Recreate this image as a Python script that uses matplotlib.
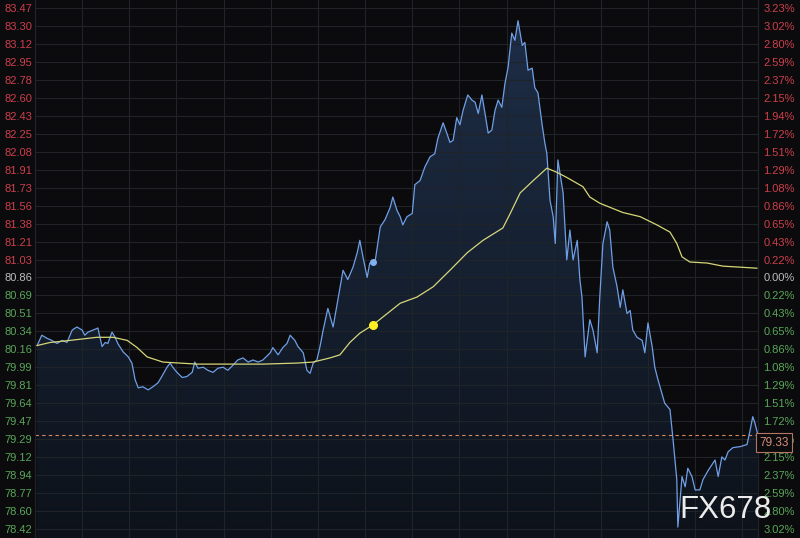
import matplotlib
matplotlib.use("Agg")
import matplotlib.pyplot as plt
import numpy as np

# minutes since session open (23h session) and price
t_price = [4, 13, 23, 32, 42, 52, 61, 71, 80, 90, 95, 101, 111, 120, 128, 134, 139, 147, 153, 158,
           168, 178, 185, 191, 197, 206, 216, 225, 235, 242, 252, 258, 263, 271, 281, 290, 300, 305,
           311, 321, 330, 340, 349, 359, 368, 378, 387, 397, 407, 416, 426, 435, 449, 454, 464, 473,
           481, 487, 496, 502, 512, 519, 525, 531, 538, 544, 550, 559, 569, 578, 588, 597, 607, 615,
           620, 626, 634, 639, 649, 659, 668, 678, 683, 691, 697, 702, 710, 720, 725, 735, 744, 754,
           763, 769, 779, 786, 792, 798, 805, 811, 817, 826, 834, 840, 846, 853, 859, 865, 872, 878,
           884, 891, 897, 903, 910, 916, 922, 930, 935, 941, 949, 954, 960, 968, 973, 977, 983, 989,
           993, 998, 1008, 1015, 1021, 1027, 1035, 1040, 1044, 1050, 1059, 1065, 1073, 1078, 1084,
           1092, 1097, 1103, 1111, 1117, 1122, 1130, 1136, 1141, 1149, 1159, 1164, 1170, 1178, 1183,
           1189, 1202, 1212, 1218, 1225, 1227, 1235, 1241, 1246, 1254, 1260, 1269, 1275, 1285, 1294,
           1298, 1304, 1311, 1317, 1323, 1332, 1346, 1359, 1365, 1370, 1374, 1380]
price = [80.20, 80.30, 80.27, 80.25, 80.22, 80.25, 80.23, 80.35, 80.38, 80.35, 80.30, 80.33, 80.35,
         80.37, 80.19, 80.23, 80.22, 80.33, 80.28, 80.22, 80.14, 80.09, 80.03, 79.87, 79.79, 79.80,
         79.77, 79.80, 79.84, 79.90, 79.99, 80.03, 79.99, 79.94, 79.89, 79.90, 79.94, 80.04, 79.98,
         79.99, 79.96, 79.94, 79.98, 79.99, 79.96, 80.01, 80.06, 80.08, 80.04, 80.06, 80.04, 80.06,
         80.13, 80.18, 80.11, 80.18, 80.22, 80.30, 80.25, 80.19, 80.13, 79.96, 79.93, 80.03, 80.06,
         80.19, 80.35, 80.56, 80.38, 80.64, 80.93, 80.84, 80.96, 81.10, 81.22, 81.06, 80.86, 81.00,
         81.01, 81.35, 81.42, 81.54, 81.64, 81.51, 81.45, 81.37, 81.45, 81.48, 81.76, 81.80, 81.93,
         82.03, 82.06, 82.21, 82.36, 82.26, 82.17, 82.19, 82.41, 82.34, 82.48, 82.63, 82.58, 82.56,
         82.45, 82.63, 82.45, 82.26, 82.29, 82.48, 82.58, 82.51, 82.74, 82.90, 83.23, 83.16, 83.35,
         83.11, 83.14, 82.87, 82.89, 82.70, 82.65, 82.34, 82.17, 82.06, 81.61, 81.45, 81.19, 82.00,
         81.68, 81.03, 81.32, 81.03, 81.22, 80.84, 80.67, 80.09, 80.45, 80.35, 80.13, 80.67, 81.19,
         81.40, 81.32, 80.96, 80.77, 80.57, 80.74, 80.51, 80.54, 80.35, 80.28, 80.25, 80.13, 80.42,
         80.19, 79.99, 79.87, 79.64, 79.58, 79.28, 78.90, 78.44, 78.93, 78.83, 79.01, 78.93, 78.80,
         78.80, 78.90, 78.99, 79.06, 79.09, 78.93, 79.12, 79.09, 79.17, 79.21, 79.22, 79.24, 79.38,
         79.51, 79.45, 79.33]

t_avg = [4, 29, 67, 118, 149, 176, 195, 214, 244, 309, 372, 435, 500, 531, 563, 582, 601, 620, 645,
         697, 729, 760, 792, 825, 855, 893, 907, 926, 951, 977, 996, 1015, 1046, 1059, 1078, 1122,
         1155, 1187, 1212, 1225, 1235, 1250, 1283, 1313, 1346, 1378]
avg = [80.20, 80.23, 80.25, 80.28, 80.28, 80.25, 80.18, 80.09, 80.04, 80.02, 80.02, 80.02, 80.03,
       80.04, 80.08, 80.11, 80.23, 80.32, 80.40, 80.61, 80.67, 80.77, 80.93, 81.10, 81.22, 81.34,
       81.48, 81.68, 81.80, 81.92, 81.88, 81.83, 81.74, 81.64, 81.58, 81.49, 81.45, 81.37, 81.30,
       81.19, 81.06, 81.01, 81.00, 80.97, 80.96, 80.95]

prev_close = 80.86
last_price = 79.33
marker_t = 645
marker_price = 81.01
marker_avg = 80.40

price_labels = ["83.47", "83.30", "83.12", "82.95", "82.78", "82.60", "82.43", "82.25", "82.08",
                "81.91", "81.73", "81.56", "81.38", "81.21", "81.03", "80.86", "80.69", "80.51",
                "80.34", "80.16", "79.99", "79.81", "79.64", "79.47", "79.29", "79.12", "78.94",
                "78.77", "78.60", "78.42"]
pct_labels = ["3.23%", "3.02%", "2.80%", "2.59%", "2.37%", "2.15%", "1.94%", "1.72%", "1.51%",
              "1.29%", "1.08%", "0.86%", "0.65%", "0.43%", "0.22%", "0.00%", "0.22%", "0.43%",
              "0.65%", "0.86%", "1.08%", "1.29%", "1.51%", "1.72%", "1.94%", "2.15%", "2.37%",
              "2.59%", "2.80%", "3.02%"]

step = prev_close * 0.0021545
ks = np.arange(15, -15, -1)
tick_pos = prev_close + ks * step

RED = "#cc3f4b"
GREEN = "#5aa65a"
GRAY = "#bdbdbd"
BG = "#0b0b0d"
GRID = "#202328"
YLIM = (78.3338, 83.5507)


def label_color(k):
    if k > 0:
        return RED
    if k < 0:
        return GREEN
    return GRAY


plt.rcParams["font.family"] = ["Liberation Sans", "DejaVu Sans"]

fig = plt.figure(figsize=(8, 5.38), dpi=100, facecolor=BG)
ax = fig.add_axes([35 / 800, 0, 723 / 800, 1])
ax.set_facecolor(BG)

# grid
for p in tick_pos:
    ax.axhline(p, color=GRID, lw=0.8, zorder=2)
for x in np.arange(90, 1380, 90):
    ax.axvline(x, color=GRID, lw=0.8, zorder=2)

# gradient fill under price line
poly = ax.fill_between(t_price, price, 78.0, facecolor="none", edgecolor="none")
grad = np.linspace(1, 0, 256).reshape(-1, 1)
cmap = matplotlib.colors.LinearSegmentedColormap.from_list("g", ["#0d121a", "#1e2e47"])
img = ax.imshow(grad, cmap=cmap, aspect="auto", extent=[0, 1380, YLIM[0], 83.40],
                origin="upper", zorder=1)
img.set_clip_path(poly.get_paths()[0], transform=ax.transData)
ax.set_xlim(0, 1380)
ax.set_ylim(*YLIM)

ax.plot(t_price, price, color="#6f9fe6", lw=0.9, zorder=4)
ax.plot(t_avg, avg, color="#d6d679", lw=0.9, zorder=4)
ax.plot([marker_t], [marker_avg], "o", color="#ffee22", ms=5.5, zorder=5)
ax.plot([marker_t], [marker_price], "o", color="#7fb0f0", ms=4, zorder=5)

# last price dashed line
ax.axhline(last_price, color="#d9895a", lw=0.8, ls=(0, (3, 3)), zorder=3)

ax.set_yticks(tick_pos)
ax.set_yticklabels(price_labels)
ax.tick_params(axis="y", length=0, pad=2, labelsize=8)
for lbl, k in zip(ax.get_yticklabels(), ks):
    lbl.set_color(label_color(k))
ax.set_xticks([])

ax2 = ax.twinx()
ax2.set_ylim(*YLIM)
ax2.set_yticks(tick_pos)
ax2.set_yticklabels(pct_labels)
ax2.tick_params(axis="y", length=0, pad=4, labelsize=8)
for lbl, k in zip(ax2.get_yticklabels(), ks):
    lbl.set_color(label_color(k))

# last price box covers the right label under it
ax2.text(1.002, last_price - 0.012, f"{last_price:.2f}", transform=ax2.get_yaxis_transform(),
         ha="left", va="top", fontsize=8.5, color="#d8907a", zorder=10, clip_on=False,
         bbox=dict(boxstyle="square,pad=0.3", fc=BG, ec="#b57563", lw=0.8))

for a in (ax, ax2):
    for side in ("top", "bottom"):
        a.spines[side].set_visible(False)
    a.spines["left"].set_color(GRID)
    a.spines["right"].set_color(GRID)

fig.text(679 / 800, 1 - 510 / 538, "F X 6 7 8".replace(" ", ""), fontsize=22.5, color="#ececec",
         ha="left", va="center", zorder=10)

fig.savefig("out.png", dpi=100, facecolor=BG)
